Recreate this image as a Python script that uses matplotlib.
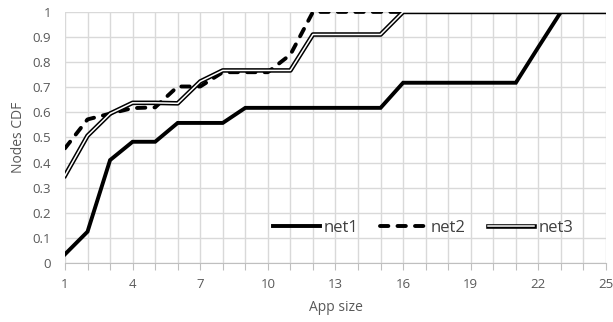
import matplotlib
matplotlib.use("Agg")
import matplotlib.pyplot as plt
import matplotlib.patheffects as pe
import numpy as np

plt.rcParams['font.family'] = ['Open Sans', 'DejaVu Sans']

app_size = list(range(1, 26))
net1 = [0.035, 0.125, 0.41, 0.483, 0.483, 0.558, 0.558, 0.558, 0.618, 0.618,
        0.618, 0.618, 0.618, 0.618, 0.618, 0.718, 0.718, 0.718, 0.718, 0.718,
        0.718, 0.86, 1.0, 1.0, 1.0]
net2 = [0.457, 0.572, 0.595, 0.617, 0.62, 0.703, 0.703, 0.76, 0.76, 0.76,
        0.83, 1.0, 1.0, 1.0, 1.0, 1.0, 1.0, 1.0, 1.0, 1.0,
        1.0, 1.0, 1.0, 1.0, 1.0]
net3 = [0.348, 0.507, 0.595, 0.638, 0.638, 0.636, 0.723, 0.767, 0.767, 0.767,
        0.767, 0.91, 0.91, 0.91, 0.91, 1.0, 1.0, 1.0, 1.0, 1.0,
        1.0, 1.0, 1.0, 1.0, 1.0]
x_labels = [1, 4, 7, 10, 13, 16, 19, 22, 25]

fig = plt.figure(figsize=(6.13, 3.22), dpi=100)
ax = fig.add_axes([0.106, 0.183, 0.8826, 0.78])

ax.plot(app_size, net1, color='black', lw=2.8, solid_joinstyle='miter', label='net1', zorder=3)
ax.plot(app_size, net2, color='black', lw=2.8, linestyle=(0, (2.15, 2.35)),
        dash_capstyle='round', label='net2', zorder=3)
ax.plot(app_size, net3, color='white', lw=1.1, label='net3', zorder=4,
        path_effects=[pe.Stroke(linewidth=3.3, foreground='black'), pe.Normal()])

ax.set_xlim(1, 25)
ax.set_ylim(0, 1)
ax.set_xticks(app_size)
ax.set_xticklabels([str(v) if v in x_labels else '' for v in app_size])
ax.set_yticks(np.round(np.arange(0, 1.01, 0.1), 1))
ax.set_yticklabels(['0', '0.1', '0.2', '0.3', '0.4', '0.5', '0.6', '0.7', '0.8', '0.9', '1'])
ax.grid(True, color='#d9d9d9', lw=1)
ax.set_axisbelow(True)
for s in ['top', 'right', 'left']:
    ax.spines[s].set_visible(False)
ax.spines['bottom'].set_color('#bfbfbf')
ax.tick_params(axis='x', colors='#bfbfbf', length=5, labelcolor='#595959', labelsize=9.5, pad=6)
ax.tick_params(axis='y', length=0, labelcolor='#595959', labelsize=9.5, pad=10)
ax.set_xlabel('App size', color='#595959', fontsize=10, labelpad=6)
ax.set_ylabel('Nodes CDF', color='#595959', fontsize=10, labelpad=5)

leg = ax.legend(ncol=3, frameon=False, loc='center', bbox_to_anchor=(0.662, 0.14),
                fontsize=12, handlelength=2.8, handletextpad=0.25, columnspacing=1.3,
                labelcolor='#404040')

fig.savefig('out.png', dpi=100)
